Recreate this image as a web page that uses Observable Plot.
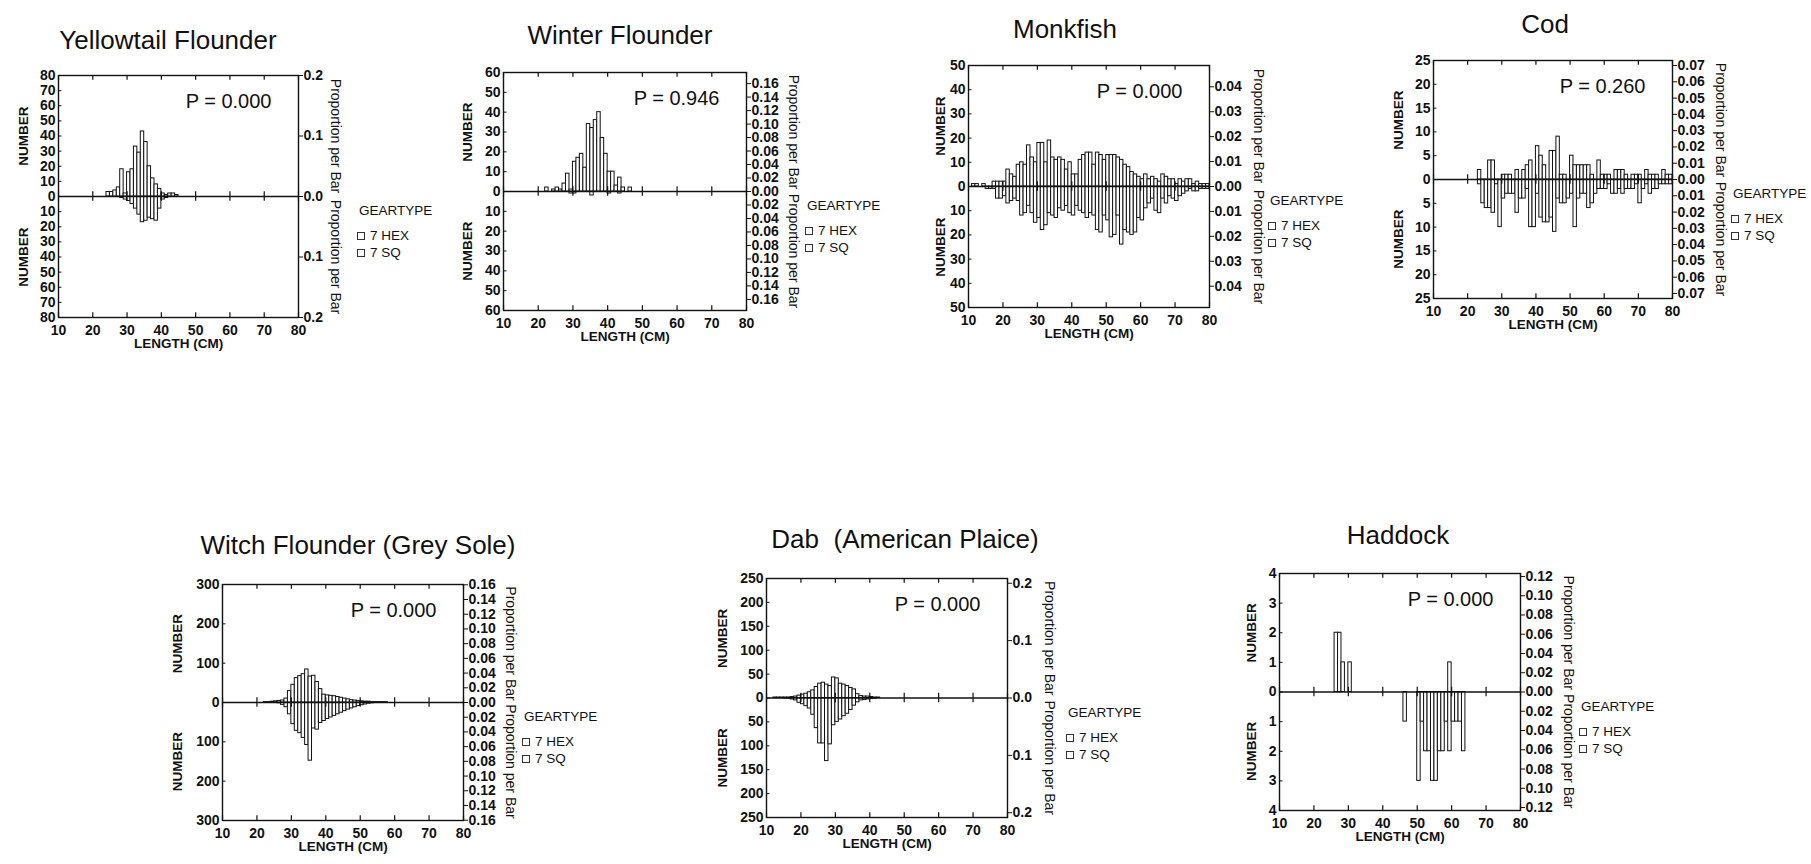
<!DOCTYPE html>
<html><head><meta charset="utf-8">
<script src="https://cdn.jsdelivr.net/npm/d3@7"></script>
<script src="https://cdn.jsdelivr.net/npm/@observablehq/plot@0.6"></script>
<style>
html,body{margin:0;padding:0;background:#fff;}
body{width:1811px;height:864px;position:relative;overflow:hidden;font-family:"Liberation Sans",Arial,sans-serif;color:#111;}
.panel{position:absolute;}
.title{position:absolute;font-size:26px;white-space:pre;transform:translate(-50%,-50%);line-height:1;}
.lg{position:absolute;font-size:13.5px;white-space:nowrap;line-height:1;transform:translateY(-50%);}
.sw{position:absolute;width:6px;height:6px;border:1px solid #333;background:#fff;transform:translateY(-50%);}
</style></head><body>
<script>
// ---------- shared ticks ----------
const lengthTicks = [10, 20, 30, 40, 50, 60, 70, 80];

// ---------- Yellowtail Flounder ----------
const yellowtailLengths = [24,25,26,27,28,29,30,31,32,33,34,35,36,37,38,39,40,41,42,43,44];
const yellowtailHex     = [3,3,4,6,18,2,16,18,33,29,43,36,20,12,8,5,2,1,2,2,1];
const yellowtailSq      = [0,0,0,0,1,2,3,5,8,12,17,16,14,15,16,8,2,1,0,0,0];
const yellowtailNumberTicks = [0,10,20,30,40,50,60,70,80];
const yellowtailPropTicks = [0, 0.1, 0.2];

// ---------- Winter Flounder ----------
const winterLengths = [22,23,24,25,26,27,28,29,30,31,32,33,34,35,36,37,38,39,40,41,42,43,44,45,46];
const winterHex     = [2,0,1,2,1,4,9,1,15,17,19,12,34,32,36,40,27,19,10,10,3,7,2,0,2];
const winterSq      = [0,0,0,0,0,0,0,1,1,0,0,0,0,2,0,0,0,0,1,0,0,1,0,0,0];
const winterNumberTicks = [0,10,20,30,40,50,60];
const winterPropTicks = [0,0.02,0.04,0.06,0.08,0.10,0.12,0.14,0.16];

// ---------- Monkfish ----------
const monkfishLengths = [11,12,13,14,15,16,17,18,19,20,21,22,23,24,25,26,27,28,29,30,31,32,33,34,35,36,37,38,39,40,41,42,43,44,45,46,47,48,49,50,51,52,53,54,55,56,57,58,59,60,61,62,63,64,65,66,67,68,69,70,71,72,73,74,75,76,77,78,79];
const monkfishHex = [1,1,0,1,0,0,2,2,2,2, 7,5,4,9,10,9,17,12,10,18, 18,10,19,12,11,12,11,7,10,5, 5,11,13,14,14,9,14,13,11,13, 13,13,12,11,9,8,6,5,4,3, 5,3,4,3,2,5,4,3,3,1, 3,2,3,3,1,2,1,1,1];
const monkfishSq  = [0,0,0,0,1,1,1,5,5,4, 7,6,5,6,12,11,8,11,15,13, 18,16,11,12,13,9,10,8,11,12, 8,10,11,13,11,12,18,19,12,14, 21,20,12,24,18,19,20,19,13,14, 9,7,5,10,11,5,7,4,5,6, 4,3,2,1,2,2,1,1,1];
const monkfishNumberTicks = [0,10,20,30,40,50];
const monkfishPropTicks = [0,0.01,0.02,0.03,0.04];

// ---------- Cod ----------
const codLengths = [23,24,25,26,27,28,29,30,31,32,33,34,35,36,37,38,39,40,41,42,43,44,45,46,47,48,49,50,51,52,53,54,55,56,57,58,59,60,61,62,63,64,65,66,67,68,69,70,71,72,73,74,75,76,77,78,79];
const codHex = [2,0,0,4,4,0,0,1,1,1, 0,2,0,2,3,4,0,7,5,3, 0,6,6,9,1,1,0,5,3,3, 3,3,3,1,0,4,1,1,1,0, 2,2,2,1,0,1,1,1,0,2, 1,1,1,0,2,1,1];
const codSq  = [1,5,6,6,7,1,10,4,3,3, 3,7,4,4,2,10,10,3,8,9, 9,8,11,4,5,5,4,3,10,4, 3,3,6,5,3,2,2,2,1,3, 3,2,3,2,2,2,1,5,2,1, 3,2,2,1,1,1,1];
const codNumberTicks = [0,5,10,15,20,25];
const codPropTicks = [0,0.01,0.02,0.03,0.04,0.05,0.06,0.07];

// ---------- Witch Flounder (Grey Sole) ----------
const witchLengths = [22,23,24,25,26,27,28,29,30,31,32,33,34,35,36,37,38,39,40,41,42,43,44,45,46,47,48,49,50,51,52,53,54,55,56,57];
const witchHex = [1,1,2,3,4,5,10,29,45,62, 67,72,84,66,68,52,34,20,18,17, 16,14,12,10,8,6,5,4,3,2, 2,1,1,1,1,1];
const witchSq  = [0,0,1,1,2,6,12,30,55,72, 78,90,108,148,66,69,52,47,42,38, 34,30,26,22,18,15,12,9,7,5, 3,2,1,1,0,0];
const witchNumberTicks = [0,100,200,300];
const witchPropTicks = [0,0.02,0.04,0.06,0.08,0.10,0.12,0.14,0.16];

// ---------- Dab (American Plaice) ----------
const dabLengths = [12,13,14,15,16,17,18,19,20,21,22,23,24,25,26,27,28,29,30,31,32,33,34,35,36,37,38,39,40,41,42];
const dabHex = [1,1,1,1,1,2,3,5,7,9, 12,16,23,30,32,28,25,43,41,30, 28,25,21,18,8,4,3,3,2,1, 1];
const dabSq  = [0,0,0,1,1,3,5,10,13,17, 22,35,63,95,95,132,97,57,50,45, 38,33,25,16,9,5,4,3,2,1, 0];
const dabNumberTicks = [0,50,100,150,200,250];
const dabPropTicks = [0,0.1,0.2];

// ---------- Haddock ----------
const haddockLengths = [26,27,28,30,46,50,51,52,53,54,55,56,57,58,59,60,61,62,63];
const haddockHex = [2,2,1,1,0,0,0,0,0,0,0,0,0,0,1,0,0,0,0];
const haddockSq  = [0,0,0,0,1,3,1,2,2,3,3,2,2,1,2,1,1,1,2];
const haddockNumberTicks = [0,1,2,3,4];
const haddockPropTicks = [0,0.02,0.04,0.06,0.08,0.10,0.12];

// ---------- per-panel text ----------
const speciesTitles = ["Yellowtail Flounder","Winter Flounder","Monkfish","Cod","Witch Flounder (Grey Sole)","Dab  (American Plaice)","Haddock"];
const pValues = ["P = 0.000","P = 0.946","P = 0.000","P = 0.260","P = 0.000","P = 0.000","P = 0.000"];
// total fish behind the "proportion per bar" axis
const proportionTotals = [400, 340, 1030, 342, 1870, 1200, 32.5];

// ---------- layout (positions / styles only) ----------
const layout = [
  {frame:[58,75,298,317],   title:[168,40],  numDx:-35, propDx:37, digits:1},
  {frame:[503,72,746,310],  title:[620,35],  numDx:-36, propDx:47, digits:2},
  {frame:[968,65,1209,307], title:[1065,29], numDx:-28, propDx:49, digits:2},
  {frame:[1433,60,1672,298],title:[1545,24], numDx:-35, propDx:48, digits:2},
  {frame:[222,584,463,820], title:[358,545], numDx:-45, propDx:47, digits:2},
  {frame:[766,578,1007,817],title:[905,539], numDx:-44, propDx:42, digits:1},
  {frame:[1279,573,1520,810],title:[1398,535],numDx:-28, propDx:48, digits:2}
];

const series = [
  [yellowtailLengths, yellowtailHex, yellowtailSq, yellowtailNumberTicks, yellowtailPropTicks],
  [winterLengths, winterHex, winterSq, winterNumberTicks, winterPropTicks],
  [monkfishLengths, monkfishHex, monkfishSq, monkfishNumberTicks, monkfishPropTicks],
  [codLengths, codHex, codSq, codNumberTicks, codPropTicks],
  [witchLengths, witchHex, witchSq, witchNumberTicks, witchPropTicks],
  [dabLengths, dabHex, dabSq, dabNumberTicks, dabPropTicks],
  [haddockLengths, haddockHex, haddockSq, haddockNumberTicks, haddockPropTicks]
];

const ML = 60, MR = 62, MT = 12, MB = 46;
const INK = "#111";

series.forEach(([lengths, hex, sq, numTicks, propTicks], k) => {
  const L = layout[k];
  const [x0, y0, x1, y1] = L.frame;
  const fw = x1 - x0, fh = y1 - y0;
  const ymax = numTicks[numTicks.length - 1];
  const total = proportionTotals[k];
  const rows = lengths.map((len, i) => ({len, hex: hex[i], sq: sq[i]}));
  const yT = [...numTicks, ...numTicks.filter(v => v > 0).map(v => -v)];
  const pT = [...propTicks, ...propTicks.filter(v => v > 0).map(v => -v)].map(v => v * total);
  const tk = ymax * 0.04;
  const fmtP = v => (Math.abs(v) / total).toFixed(L.digits);

  const svg = Plot.plot({
    width: fw + ML + MR, height: fh + MT + MB,
    marginLeft: ML, marginRight: MR, marginTop: MT, marginBottom: MB,
    style: {fontFamily: "'Liberation Sans', Arial, sans-serif", fontSize: "14px", color: INK, background: "transparent", overflow: "visible"},
    x: {domain: [10, 80]},
    y: {domain: [-ymax, ymax]},
    marks: [
      Plot.rect(rows.filter(d => d.sq > 0), {x1: "len", x2: d => d.len + 1, y1: 0, y2: d => -d.sq, fill: "white", stroke: INK, strokeWidth: 1}),
      Plot.rect(rows.filter(d => d.hex > 0), {x1: "len", x2: d => d.len + 1, y1: 0, y2: "hex", fill: "white", stroke: INK, strokeWidth: 1}),
      Plot.ruleY([0], {stroke: INK, strokeWidth: 1.4}),
      Plot.ruleX(lengthTicks, {x: d => d, y1: -tk, y2: tk, stroke: INK, strokeWidth: 1.2}),
      Plot.ruleX(lengthTicks, {x: d => d, y1: ymax, y2: ymax - tk, stroke: INK, strokeWidth: 1.2}),
      Plot.ruleX(lengthTicks, {x: d => d, y1: -ymax, y2: -ymax + tk, stroke: INK, strokeWidth: 1.2}),
      Plot.ruleY(yT, {y: d => d, x1: 10, x2: 11, stroke: INK, strokeWidth: 1}),
      Plot.frame({stroke: INK, strokeWidth: 1.4}),
      Plot.axisX(lengthTicks, {anchor: "bottom", label: null, tickSize: 0, tickPadding: 8, fontSize: 14, fontWeight: "bold"}),
      Plot.axisY(yT, {anchor: "left", label: null, tickSize: 0, tickPadding: 3, fontSize: 14, fontWeight: "bold", tickFormat: d => String(Math.abs(d))}),
      Plot.axisY(pT, {anchor: "right", label: null, tickSize: 4, tickPadding: 1, fontSize: 14, fontWeight: "bold", tickFormat: fmtP}),
      Plot.text(["LENGTH (CM)"], {frameAnchor: "bottom", dy: 30, textAnchor: "middle", fontWeight: "bold", fontSize: 13.5}),
      Plot.text([ymax / 2, -ymax / 2], {y: d => d, frameAnchor: "left", dx: L.numDx, rotate: -90, textAnchor: "middle", text: () => "NUMBER", fontWeight: "bold", fontSize: 13.5}),
      Plot.text([ymax / 2, -ymax / 2], {y: d => d, frameAnchor: "right", dx: L.propDx, rotate: 90, textAnchor: "middle", text: () => "Proportion per Bar", fontSize: 14}),
      Plot.text([pValues[k]], {frameAnchor: "top-right", dx: -27, dy: 18, textAnchor: "end", lineAnchor: "top", fontSize: 20})
    ]
  });
  const wrap = document.createElement("div");
  wrap.className = "panel";
  wrap.style.left = (x0 - ML) + "px";
  wrap.style.top = (y0 - MT) + "px";
  wrap.appendChild(svg);
  document.body.appendChild(wrap);

  const t = document.createElement("div");
  t.className = "title";
  t.textContent = speciesTitles[k];
  t.style.left = L.title[0] + "px";
  t.style.top = L.title[1] + "px";
  document.body.appendChild(t);

  const zy = (y0 + y1) / 2;
  const addLg = (txt, x, y) => {
    const d = document.createElement("div");
    d.className = "lg"; d.textContent = txt;
    d.style.left = x + "px"; d.style.top = y + "px";
    document.body.appendChild(d);
  };
  const addSw = (x, y) => {
    const d = document.createElement("div");
    d.className = "sw"; d.style.left = x + "px"; d.style.top = y + "px";
    document.body.appendChild(d);
  };
  addLg("GEARTYPE", x1 + 61, zy + 15);
  addSw(x1 + 59, zy + 40); addLg("7 HEX", x1 + 72, zy + 40);
  addSw(x1 + 59, zy + 57); addLg("7 SQ", x1 + 72, zy + 57);
});
</script>
</body></html>
